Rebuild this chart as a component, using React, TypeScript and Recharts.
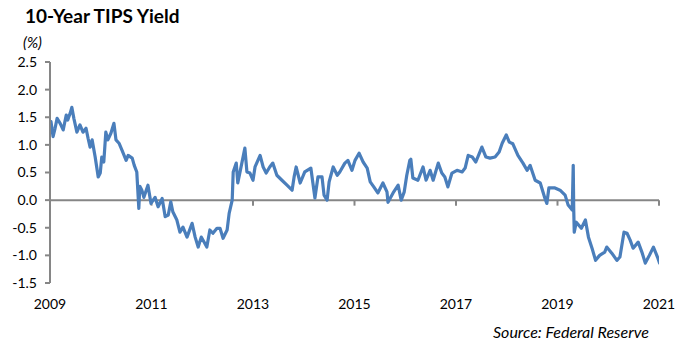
import React from 'react';
import { LineChart, Line, XAxis, YAxis, ReferenceLine } from 'recharts';

// decimal year of each reading
const dates = [
  2009.0, 2009.02, 2009.06, 2009.1, 2009.14, 2009.2, 2009.26, 2009.32, 2009.35, 2009.4,
  2009.43, 2009.47, 2009.53, 2009.59, 2009.65, 2009.71, 2009.75, 2009.79, 2009.83, 2009.89,
  2009.95, 2009.99, 2010.02, 2010.06, 2010.1, 2010.14, 2010.2, 2010.26, 2010.3, 2010.36,
  2010.42, 2010.5, 2010.54, 2010.62, 2010.66, 2010.71, 2010.73, 2010.75, 2010.77, 2010.81,
  2010.85, 2010.93, 2010.99, 2011.07, 2011.13, 2011.21, 2011.27, 2011.33, 2011.38, 2011.42,
  2011.5, 2011.56, 2011.62, 2011.7, 2011.8, 2011.86, 2011.92, 2011.98, 2012.05, 2012.09,
  2012.15, 2012.21, 2012.29, 2012.35, 2012.41, 2012.49, 2012.53, 2012.59, 2012.61, 2012.67,
  2012.7, 2012.78, 2012.84, 2012.88, 2012.94, 2013.0, 2013.04, 2013.14, 2013.2, 2013.26,
  2013.33, 2013.39, 2013.47, 2013.57, 2013.67, 2013.77, 2013.81, 2013.85, 2013.93, 2014.02,
  2014.14, 2014.18, 2014.22, 2014.28, 2014.36, 2014.4, 2014.46, 2014.5, 2014.58, 2014.66,
  2014.71, 2014.81, 2014.87, 2014.95, 2015.01, 2015.09, 2015.17, 2015.25, 2015.31, 2015.38,
  2015.46, 2015.56, 2015.64, 2015.66, 2015.76, 2015.86, 2015.92, 2015.98, 2016.03, 2016.09,
  2016.11, 2016.15, 2016.25, 2016.35, 2016.41, 2016.49, 2016.55, 2016.65, 2016.72, 2016.78,
  2016.84, 2016.92, 2017.02, 2017.12, 2017.18, 2017.24, 2017.32, 2017.39, 2017.51, 2017.59,
  2017.67, 2017.77, 2017.85, 2017.91, 2017.99, 2018.05, 2018.12, 2018.22, 2018.32, 2018.4,
  2018.46, 2018.56, 2018.66, 2018.75, 2018.79, 2018.83, 2018.95, 2019.05, 2019.15, 2019.21,
  2019.29, 2019.31, 2019.32, 2019.33, 2019.37, 2019.47, 2019.55, 2019.61, 2019.69, 2019.75,
  2019.83, 2019.93, 2019.97, 2020.07, 2020.17, 2020.23, 2020.31, 2020.37, 2020.43, 2020.49,
  2020.59, 2020.67, 2020.73, 2020.81, 2020.89, 2020.97, 2021.01, 2021.05,
];

const yields = [
  1.35, 1.42, 1.15, 1.3, 1.48, 1.39, 1.27, 1.54, 1.45, 1.58,
  1.68, 1.48, 1.23, 1.36, 1.23, 1.3, 1.12, 0.96, 1.09, 0.78,
  0.42, 0.49, 0.78, 0.69, 1.23, 1.09, 1.21, 1.39, 1.09, 1.03,
  0.9, 0.72, 0.81, 0.76, 0.63, 0.51, 0.18, -0.15, 0.25, 0.18,
  0.05, 0.27, -0.06, 0.05, -0.12, 0.03, -0.3, -0.27, -0.03, -0.21,
  -0.36, -0.58, -0.49, -0.67, -0.42, -0.67, -0.85, -0.67, -0.78, -0.85,
  -0.54, -0.6, -0.51, -0.51, -0.69, -0.54, -0.24, 0.0, 0.51, 0.67,
  0.31, 0.67, 0.94, 0.51, 0.49, 0.36, 0.6, 0.81, 0.6, 0.49,
  0.6, 0.67, 0.45, 0.36, 0.27, 0.18, 0.42, 0.6, 0.31, 0.51,
  0.58, 0.31, 0.04, 0.42, 0.42, 0.09, 0.0, 0.33, 0.6, 0.45,
  0.51, 0.67, 0.72, 0.54, 0.72, 0.85, 0.69, 0.58, 0.33, 0.24,
  0.13, 0.31, 0.15, -0.04, 0.13, 0.27, 0.0, 0.15, 0.45, 0.72,
  0.74, 0.4, 0.36, 0.6, 0.36, 0.54, 0.36, 0.67, 0.49, 0.42,
  0.24, 0.49, 0.54, 0.51, 0.58, 0.81, 0.78, 0.69, 0.96, 0.78,
  0.76, 0.78, 0.87, 1.03, 1.18, 1.05, 1.02, 0.81, 0.67, 0.54,
  0.63, 0.36, 0.31, 0.04, -0.06, 0.22, 0.22, 0.18, 0.09, -0.09,
  -0.18, 0.63, -0.18, -0.58, -0.4, -0.51, -0.36, -0.67, -0.9, -1.09,
  -1.0, -0.94, -0.85, -0.96, -1.09, -1.03, -0.58, -0.6, -0.72, -0.87,
  -0.76, -0.96, -1.14, -1.0, -0.85, -1.03, -1.14, -1.0,
];

const yearTicks = [2009, 2011, 2013, 2015, 2017, 2019, 2021];
const yTicks = [-1.5, -1.0, -0.5, 0, 0.5, 1.0, 1.5, 2.0, 2.5];

const data = dates.map((d, i) => ({ date: d, tips: yields[i] }));

const axisGray = '#868686';
const lineBlue = '#4a7ebb';
const font = 'Lato, "Open Sans", sans-serif';

export default function App() {
  return (
    <div style={{ position: 'absolute', left: 0, top: 0, width: 683, height: 347, background: '#fff', fontFamily: font }}>
      <div style={{ position: 'absolute', left: 25, top: 4, fontSize: 19, fontWeight: 700, color: '#000' }}>
        10-Year TIPS Yield
      </div>
      <div style={{ position: 'absolute', left: 23, top: 33, fontSize: 15, fontStyle: 'italic', color: '#000' }}>
        (%)
      </div>
      <div style={{ position: 'absolute', left: 493, top: 322, fontSize: 16, fontStyle: 'italic', color: '#000' }}>
        Source: Federal Reserve
      </div>
      <LineChart width={683} height={347} data={data} margin={{ top: 62, right: 24, left: 0, bottom: 34 }}>
        <XAxis
          dataKey="date"
          type="number"
          domain={[2009, 2021]}
          ticks={yearTicks}
          allowDataOverflow
          axisLine={false}
          tickLine={false}
          tickMargin={10}
          height={30}
          tick={{ fontSize: 14, fill: '#000', fontFamily: font }}
        />
        <YAxis
          type="number"
          domain={[-1.5, 2.5]}
          ticks={yTicks}
          width={50}
          tickSize={5}
          tickMargin={8}
          axisLine={{ stroke: axisGray, strokeWidth: 2 }}
          tickLine={{ stroke: axisGray, strokeWidth: 2 }}
          tickFormatter={(v: number) => v.toFixed(1)}
          tick={{ fontSize: 14, fill: '#000', fontFamily: font }}
        />
        <ReferenceLine y={0} stroke={axisGray} strokeWidth={2} />
        {yearTicks.slice(1).map((yr) => (
          <ReferenceLine
            key={yr}
            segment={[{ x: yr, y: 0 }, { x: yr, y: -0.1 }]}
            stroke={axisGray}
            strokeWidth={2}
          />
        ))}
        <Line
          type="linear"
          dataKey="tips"
          stroke={lineBlue}
          strokeWidth={3.2}
          strokeLinejoin="round"
          dot={false}
          isAnimationActive={false}
        />
      </LineChart>
    </div>
  );
}
